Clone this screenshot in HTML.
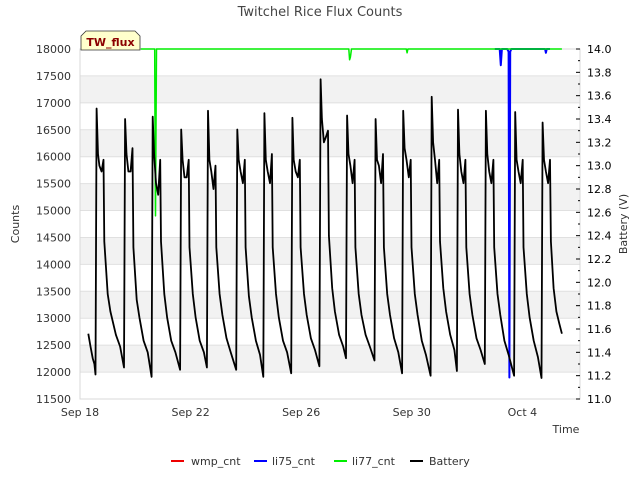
<!DOCTYPE html>
<html><head><meta charset="utf-8"><style>
body{margin:0;background:#fff;font-family:"Liberation Sans","DejaVu Sans",sans-serif;}
svg text{font-family:"DejaVu Sans","Liberation Sans",sans-serif;}
</style></head><body>
<svg id="chart" width="640" height="480" viewBox="0 0 640 480" xmlns="http://www.w3.org/2000/svg">
<text x="320" y="16" text-anchor="middle" font-size="13" fill="#444">Twitchel Rice Flux Counts</text>
<g id="bands"></g>
<g id="axes"></g>
<g id="series"></g>
<g>
<path d="M81,50 L81,36 L86,31 L135,31 L140,36 L140,50 Z" fill="#ffffcc" stroke="#333" stroke-width="0.8"/>
<text x="110.5" y="46" text-anchor="middle" font-size="11" font-weight="bold" fill="#8b0000">TW_flux</text>
</g>
<text x="19" y="224" transform="rotate(-90 19 224)" text-anchor="middle" font-size="11" fill="#333">Counts</text>
<text x="627" y="224" transform="rotate(-90 627 224)" text-anchor="middle" font-size="11" fill="#333">Battery (V)</text>
<text x="566" y="433" text-anchor="middle" font-size="11" fill="#333">Time</text>
<g>
<g><line x1="171" y1="461" x2="184" y2="461" stroke="#e00" stroke-width="2"/><text x="191" y="465" font-size="11" fill="#333">wmp_cnt</text></g>
<g><line x1="254" y1="461" x2="267" y2="461" stroke="#00f" stroke-width="2"/><text x="272" y="465" font-size="11" fill="#333">li75_cnt</text></g>
<g><line x1="334" y1="461" x2="347" y2="461" stroke="#0e0" stroke-width="2"/><text x="352" y="465" font-size="11" fill="#333">li77_cnt</text></g>
<g><line x1="410" y1="461" x2="423" y2="461" stroke="#000" stroke-width="2"/><text x="429" y="465" font-size="11" fill="#333">Battery</text></g>
</g>
</svg>
<script>
const countTicks=[11500,12000,12500,13000,13500,14000,14500,15000,15500,16000,16500,17000,17500,18000];
const voltTicks=[11.0,11.2,11.4,11.6,11.8,12.0,12.2,12.4,12.6,12.8,13.0,13.2,13.4,13.6,13.8,14.0];
const dateTicks=[0,4,8,12,16];
const dateLabels=["Sep 18","Sep 22","Sep 26","Sep 30","Oct 4"];
const li77Days=[2.2,2.70,2.715,2.73,2.75,2.765,9.72,9.75,9.78,9.82,11.8,11.83,11.86,17.43];
const li77Vals=[18000,18000,16000,14900,16500,18000,18000,17800,17850,18000,18000,17930,18000,18000];
const li75Days=[15.0,15.18,15.22,15.26,15.45,15.5,15.53,15.56,15.6,16.82,16.85,16.88,17.0];
const li75Vals=[18000,18000,17700,18000,18000,17950,11900,17950,18000,18000,17930,18000,18000];
const batDays=[0.3,0.38,0.46,0.52,0.56,
0.60,0.65,0.70,0.78,0.85,0.88,1.0,1.1,1.3,1.45,1.59,
1.63,1.68,1.75,1.83,1.9,1.93,2.05,2.15,2.3,2.45,2.59,
2.63,2.68,2.75,2.83,2.9,2.93,3.05,3.15,3.3,3.45,3.62,
3.66,3.71,3.78,3.86,3.93,3.96,4.08,4.18,4.33,4.48,4.59,
4.63,4.68,4.75,4.83,4.9,4.93,5.05,5.15,5.3,5.45,5.65,
5.69,5.74,5.81,5.89,5.96,5.99,6.11,6.21,6.36,6.51,6.63,
6.67,6.72,6.79,6.87,6.94,6.97,7.09,7.19,7.34,7.49,7.64,
7.68,7.73,7.80,7.88,7.95,7.98,8.1,8.2,8.35,8.5,8.66,
8.70,8.75,8.82,8.9,8.97,9.0,9.12,9.22,9.37,9.52,9.62,
9.66,9.71,9.78,9.86,9.93,9.96,10.08,10.18,10.33,10.48,10.65,
10.69,10.74,10.81,10.89,10.96,10.99,11.11,11.21,11.36,11.51,11.65,
11.69,11.74,11.81,11.89,11.96,11.99,12.11,12.21,12.36,12.51,12.68,
12.72,12.77,12.84,12.92,12.99,13.02,13.14,13.24,13.39,13.54,13.63,
13.67,13.72,13.79,13.87,13.94,13.97,14.09,14.19,14.34,14.49,14.64,
14.68,14.73,14.80,14.88,14.95,14.98,15.1,15.2,15.35,15.5,15.7,
15.74,15.79,15.86,15.94,16.01,16.04,16.16,16.26,16.41,16.56,16.69,
16.73,16.78,16.85,16.93,17.0,17.03,17.13,17.23,17.33,17.43];
const batVolts=[11.56,11.45,11.35,11.3,11.21,
13.49,13.1,13.0,12.95,13.05,12.35,11.9,11.75,11.55,11.45,11.27,
13.40,13.1,12.95,12.95,13.15,12.3,11.85,11.7,11.5,11.4,11.19,
13.42,13.1,12.85,12.75,13.05,12.35,11.9,11.7,11.5,11.4,11.25,
13.31,13.05,12.9,12.9,13.05,12.3,11.9,11.7,11.5,11.4,11.27,
13.47,13.05,12.95,12.8,13.0,12.3,11.9,11.72,11.52,11.4,11.25,
13.31,13.05,12.95,12.85,13.05,12.3,11.88,11.7,11.5,11.38,11.19,
13.45,13.05,12.95,12.85,13.1,12.3,11.9,11.7,11.5,11.4,11.22,
13.41,13.05,12.95,12.9,13.05,12.3,11.9,11.72,11.52,11.42,11.28,
13.74,13.4,13.2,13.25,13.3,12.4,11.95,11.75,11.55,11.45,11.35,
13.43,13.1,13.0,12.85,13.05,12.3,11.9,11.72,11.55,11.45,11.33,
13.40,13.05,13.0,12.85,13.1,12.3,11.9,11.72,11.52,11.4,11.22,
13.47,13.15,13.05,12.9,13.05,12.3,11.9,11.72,11.5,11.38,11.20,
13.59,13.2,13.05,12.85,13.05,12.35,11.95,11.75,11.55,11.42,11.24,
13.48,13.1,12.95,12.85,13.05,12.3,11.9,11.72,11.52,11.42,11.30,
13.47,13.1,12.95,12.85,13.05,12.3,11.9,11.72,11.5,11.38,11.20,
13.46,13.05,12.95,12.85,13.05,12.3,11.9,11.7,11.5,11.36,11.18,
13.37,13.05,12.95,12.85,13.05,12.35,11.95,11.75,11.65,11.56];
const L=80,R=580,T=49,B=399;
const xS=d=>L+d*27.65;
const yC=c=>T+(18000-c)/6500*(B-T);
const yV=v=>T+(14-v)/3*(B-T);
const NS="http://www.w3.org/2000/svg";
function mk(tag,attrs,parent){const e=document.createElementNS(NS,tag);for(const k in attrs)e.setAttribute(k,attrs[k]);parent.appendChild(e);return e;}
const bands=document.getElementById('bands'),axes=document.getElementById('axes'),series=document.getElementById('series');
for(let i=0;i<countTicks.length-1;i++){
  if(countTicks[i]%1000===0&&countTicks[i]>=12000){
    const r=mk('rect',{x:L,y:yC(countTicks[i+1]),width:R-L,height:yC(countTicks[i])-yC(countTicks[i+1]),fill:'#f2f2f2'},bands);
    
    
  }
}
countTicks.forEach(c=>{
  const g=mk('line',{x1:L,x2:R,y1:yC(c),y2:yC(c),stroke:'#e0e0e0','stroke-width':1},axes);
  
  
  const t=mk('text',{x:71,y:yC(c)+4,'text-anchor':'end','font-size':11,fill:'#333'},axes);
  t.textContent=c;
  
  
});
const fr=mk('rect',{x:L,y:T,width:R-L,height:B-T,fill:'none',stroke:'#d8d8d8'},axes);


for(let v=110;v<=140;v++){
  const y=yV(v/10);
  const tk=mk('line',{x1:R-(v%2===0?4:2),x2:R,y1:y,y2:y,stroke:'#000'},axes);
  
  
}
voltTicks.forEach(v=>{
  const t=mk('text',{x:587,y:yV(v)+4,'font-size':11,fill:'#000'},axes);
  t.textContent=v.toFixed(1);
  
  
});
dateTicks.forEach((d,i)=>{
  const t=mk('text',{x:xS(d),y:416,'text-anchor':'middle','font-size':11,fill:'#333'},axes);
  t.textContent=dateLabels[i];
  
  
});
function line(days,vals,ys,color,name,w){
  const p=mk('polyline',{points:days.map((d,i)=>xS(d).toFixed(1)+','+ys(vals[i]).toFixed(1)).join(' '),fill:'none',stroke:color,'stroke-width':w,'stroke-linejoin':'round'},series);
  
  
}
line(li75Days,li75Vals,yC,'#00f','li75-line',2);
line(li77Days,li77Vals,yC,'#0e0','li77-line',1.5);
line(batDays,batVolts,yV,'#000','battery-line',1.8);
</script>
</body></html>
